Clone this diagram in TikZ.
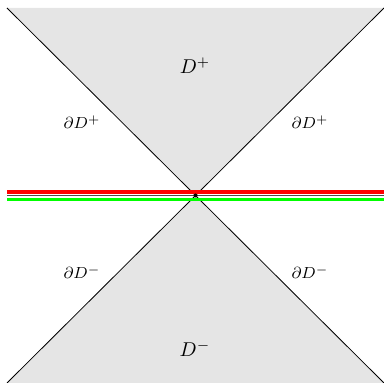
\documentclass[tikz,border=0pt]{standalone}
\begin{document}
\begin{tikzpicture}[x=0.5pt,y=-0.5pt,
  region/.style={fill=gray!20,draw=none},
  edge/.style={draw=black,line width=0.4pt},
  lbig/.style={font=\normalsize},
  lsmall/.style={font=\footnotesize}]
\useasboundingbox (0,0) rectangle (384,383);
\coordinate (tl) at (7,8);
\coordinate (tr) at (384,8);
\coordinate (bl) at (7,383);
\coordinate (br) at (384,383);
\coordinate (c) at (195.5,195.5);
\coordinate (rl) at (7,192);
\coordinate (rr) at (384,192);
\coordinate (gl) at (7,195.8);
\coordinate (gr) at (384,195.8);
\coordinate (nl) at (7,199.6);
\coordinate (nr) at (384,199.6);
\fill[region] (tl) -- (tr) -- (c) -- cycle;
\fill[region] (bl) -- (br) -- (c) -- cycle;
\draw[edge] (tl) -- (br);
\draw[edge] (tr) -- (bl);
\draw[red,line width=1.75pt] (rl) -- (rr);
\draw[black!70,line width=0.7pt] (gl) -- (gr);
\draw[green,line width=1.75pt] (nl) -- (nr);
\fill[black] (c) circle[radius=2];
\node[lbig] (dp) at (195,66) {$D^{+}$};
\node[lbig] (dm) at (195,349) {$D^{-}$};
\node[lsmall] (bpl) at (82,122) {$\partial D^{+}$};
\node[lsmall] (bpr) at (310,122) {$\partial D^{+}$};
\node[lsmall] (bml) at (82,272) {$\partial D^{-}$};
\node[lsmall] (bmr) at (310,272) {$\partial D^{-}$};
\end{tikzpicture}
\end{document}
